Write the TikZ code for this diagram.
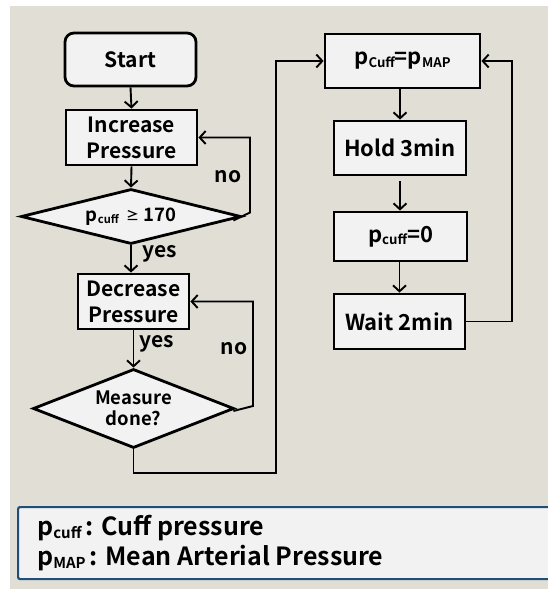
\documentclass[tikz,border=0pt]{standalone}
\usepackage{fontspec}
\setmainfont{Noto Sans CJK KR}[BoldFont={Noto Sans CJK KR Bold}]
\usetikzlibrary{arrows.meta,shapes.geometric}
\definecolor{bgc}{HTML}{E0DED5}
\definecolor{boxfill}{HTML}{F2F2F2}
\definecolor{legendline}{HTML}{1F4E79}
\newcommand{\sbt}[1]{\raisebox{-0.12em}{\scalebox{0.6}{#1}}}
\tikzset{
  x=1pt,y=-1pt,
  every node/.style={font=\bfseries},
  boxstyle/.style={draw=black,line width=2.8pt,fill=boxfill,inner sep=0pt,align=center},
  diastyle/.style={draw=black,line width=2.8pt,fill=boxfill,diamond,aspect=2.5,inner sep=0pt,align=center},
  arr/.style={line width=1.9pt,-{Straight Barb[length=6pt,width=13pt,line width=1.9pt]}},
  lbl/.style={font=\fontsize{21}{24}\bfseries\selectfont,inner sep=0pt,anchor=base}
}
\begin{document}
\begin{tikzpicture}
\useasboundingbox (0,0) rectangle (548,589);
\clip (0,0) rectangle (548,589);
\fill[bgc] (10,6) rectangle (548,589);

% left column
\node[boxstyle,rounded corners=9pt,minimum width=131pt,minimum height=53pt,font=\fontsize{21}{26}\bfseries\selectfont] (start) at (130.5,59.5) {Start};
\node[boxstyle,minimum width=131pt,minimum height=55pt,font=\fontsize{21}{26}\bfseries\selectfont] (inc) at (131.5,137.5) {Increase\\Pressure};
\node[diastyle,minimum width=220pt,minimum height=55pt,font=\fontsize{18.5}{21}\bfseries\selectfont] (d1) at (131,216.5) {p\sbt{cuff}\, \raisebox{0.05em}{\scalebox{0.7}{≥}} 170};
\node[boxstyle,minimum width=111pt,minimum height=55pt,font=\fontsize{21}{26}\bfseries\selectfont] (dec) at (133.5,301.5) {Decrease\\Pressure};
\node[diastyle,minimum width=201pt,minimum height=79pt,font=\fontsize{18.5}{21}\bfseries\selectfont] (d2) at (133.5,408.5) {Measure\\done?};

% right column
\node[boxstyle,minimum width=155pt,minimum height=54pt,font=\fontsize{22}{26}\bfseries\selectfont] (p1) at (402.5,61) {p\sbt{Cuff}=p\sbt{MAP}};
\node[boxstyle,minimum width=132pt,minimum height=54pt,font=\fontsize{22}{26}\bfseries\selectfont] (hold) at (400,148) {Hold 3min};
\node[boxstyle,minimum width=133pt,minimum height=49pt,font=\fontsize{22}{26}\bfseries\selectfont] (p0) at (400.5,236.5) {p\sbt{cuff}=0};
\node[boxstyle,minimum width=131pt,minimum height=55pt,font=\fontsize{22}{26}\bfseries\selectfont] (wait) at (399.5,321.5) {Wait 2min};

% connectors left
\draw[arr] (start.south) -- (inc.north);
\draw[arr] (inc.south) -- (d1.north);
\coordinate (n1) at (250,212.5);
\draw[arr] ([xshift=-9pt,yshift=-4pt]d1.east) -- (n1) |- (inc.east);
\node[lbl] (no1) at (228,182) {no};
\draw[arr] (d1.south) -- (d1.south |- dec.north);
\node[lbl] (yes1) at (160,257) {yes};
\coordinate (n2) at (253,406);
\draw[arr] ([xshift=-2pt,yshift=-2.5pt]d2.east) -- (n2) |- (dec.east);
\node[lbl] (no2) at (234,354) {no};
\draw[arr] (dec.south) -- (dec.south |- d2.north);
\node[lbl] (yes2) at (157,347) {yes};
\coordinate (c1) at (276,473);
\draw[arr] (d2.south) |- (c1) |- (p1.west);

% connectors right
\draw[arr] (p1.south -| hold.north) -- (hold.north);
\draw[arr,shorten <=5pt] (hold.south) -- (hold.south |- p0.north);
\draw[arr] (p0.south -| wait.north) -- (wait.north);
\coordinate (c2) at (512,321.5);
\draw[arr] (wait.east) -- (c2) |- (p1.east);

% legend
\node[draw=legendline,line width=2.2pt,fill=boxfill,rounded corners=2pt,minimum width=570pt,minimum height=72pt,anchor=north west,inner sep=0pt] (leg) at (17,506) {};
\node[anchor=base west,inner sep=0pt,font=\fontsize{25}{30}\bfseries\selectfont] (l1) at (37,535) {p\sbt{cuff}\,: Cuff pressure};
\node[anchor=base west,inner sep=0pt,font=\fontsize{25}{30}\bfseries\selectfont] (l2) at (37,565) {p\sbt{MAP}\,: Mean Arterial Pressure};
\end{tikzpicture}
\end{document}
